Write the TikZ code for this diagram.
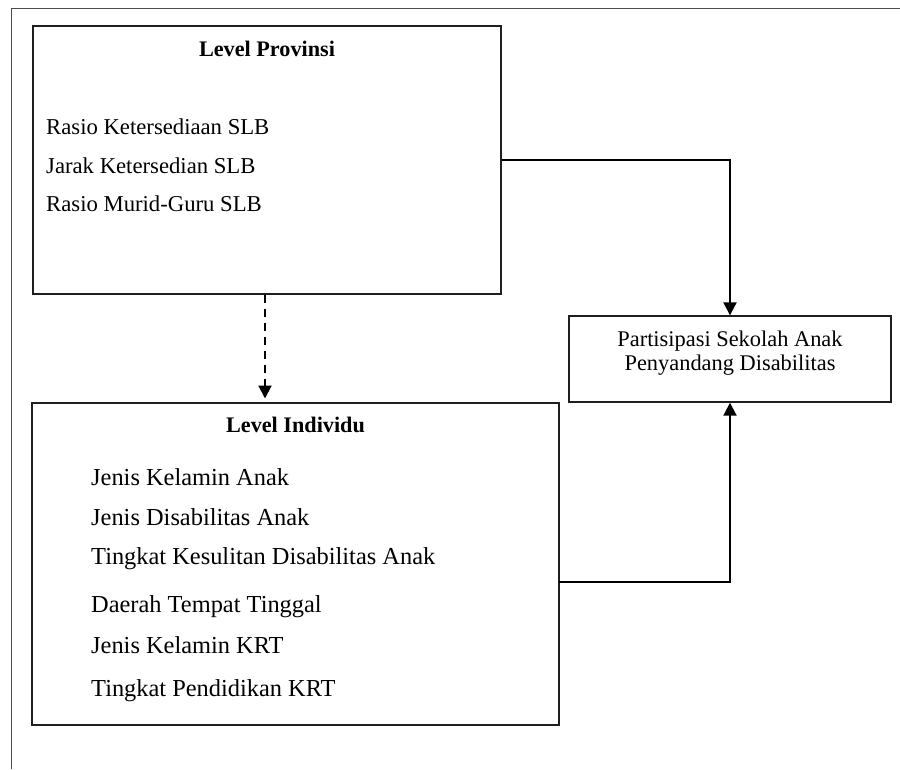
\documentclass[tikz,border=0pt]{standalone}
\usepackage{fontspec}
\setmainfont{Liberation Serif}
\usetikzlibrary{arrows.meta}
\begin{document}
\begin{tikzpicture}[x=1pt,y=-1pt,
  box/.style={draw=black!88, line width=1.4pt, rectangle, inner sep=0pt},
  head/.style={font=\fontsize{22.2}{26}\selectfont\bfseries, anchor=base, inner sep=0pt},
  itemA/.style={font=\fontsize{22.7}{27}\selectfont, anchor=base west, inner sep=0pt},
  itemB/.style={font=\fontsize{24.4}{29}\selectfont, anchor=base west, inner sep=0pt},
  itemC/.style={font=\fontsize{22.4}{27}\selectfont, anchor=base, inner sep=0pt},
  conn/.style={line width=2pt, -{Triangle[width=13pt,length=13pt]}},
  frame/.style={line width=1pt, draw=black!70}]
\useasboundingbox (0,0) rectangle (900,769);
% outer frame (partial)
\draw[frame] (11,769) -- (11,8) -- (900,8);
% boxes
\node[box, minimum width=468pt, minimum height=268pt] (prov) at (267,160) {};
\node[box, minimum width=527pt, minimum height=322pt] (indv) at (295.5,564) {};
\node[box, minimum width=322pt, minimum height=86pt] (part) at (730,359) {};
% texts in top box
\node[head] (hprov) at (267,56) {Level Provinsi};
\node[itemA] (p1) at (46,134) {Rasio Ketersediaan SLB};
\node[itemA] (p2) at (46,173.5) {Jarak Ketersedian SLB};
\node[itemA] (p3) at (46,211.5) {Rasio Murid-Guru SLB};
% texts in bottom box
\node[head] (hindv) at (295.5,432.3) {Level Individu};
\node[itemB] (i1) at (91,485.7) {Jenis Kelamin Anak};
\node[itemB] (i2) at (91,525) {Jenis Disabilitas Anak};
\node[itemB] (i3) at (91,564) {Tingkat Kesulitan Disabilitas Anak};
\node[itemB] (i4) at (91,612) {Daerah Tempat Tinggal};
\node[itemB] (i5) at (91,653.5) {Jenis Kelamin KRT};
\node[itemB] (i6) at (91,696) {Tingkat Pendidikan KRT};
% texts in right box
\node[itemC] (r1) at (730,346.7) {Partisipasi Sekolah Anak};
\node[itemC] (r2) at (730,370.7) {Penyandang Disabilitas};
% connectors
\coordinate (dend) at (265,398.5);
\coordinate (bout) at (559,582);
\draw[conn] (prov.east) -| (part.north);
\draw[conn] (bout) -| (part.south);
\draw[conn, dash pattern=on 8pt off 6pt] (prov.south -| dend) -- (dend);
\end{tikzpicture}
\end{document}
